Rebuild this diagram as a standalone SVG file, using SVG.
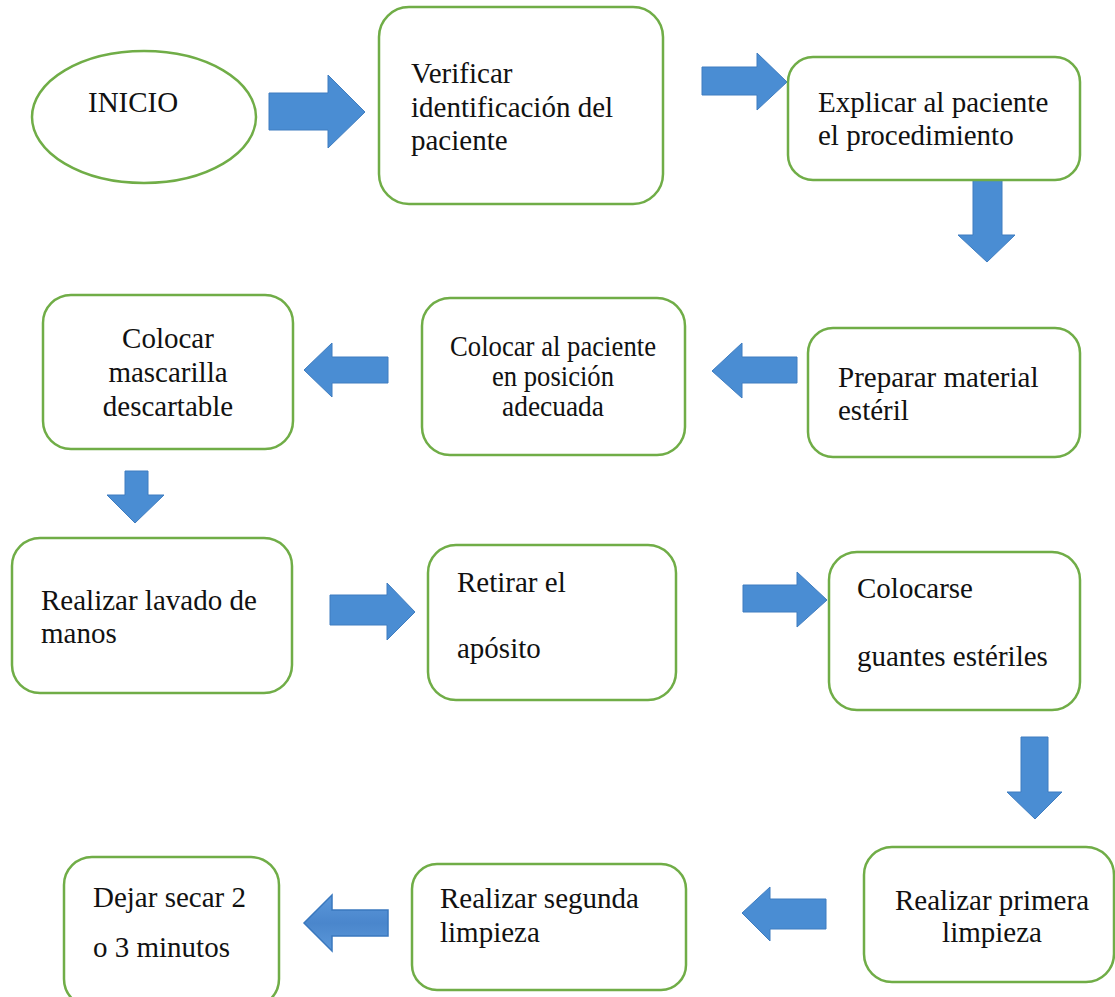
<svg xmlns="http://www.w3.org/2000/svg" width="1115" height="997" viewBox="0 0 1115 997" font-family="'Liberation Serif', 'Times New Roman', serif">
<defs>
<style>
.box{fill:#ffffff;stroke:#70AD47;stroke-width:2.5}
.arr{fill:#4A8DD3;stroke:#3F7DC0;stroke-width:1}
text{font-family:'Liberation Serif','Times New Roman',serif}
.t{font-size:29px;fill:#111111}
.c{text-anchor:middle}
</style>
<linearGradient id="g11" x1="0" y1="0" x2="0" y2="1">
<stop offset="0" stop-color="#5B98DA"/>
<stop offset="0.5" stop-color="#4A86CC"/>
<stop offset="1" stop-color="#5B98DA"/>
</linearGradient>
</defs>
<rect width="1115" height="997" fill="#ffffff"/>

<g id="connectors">
<path class="arr" d="M269,93 H328 V75 L365,112 L328,148 V130 H269 Z"/>
<path class="arr" d="M702,67 H757 V53 L787,82 L757,110 V95 H702 Z"/>
<path class="arr" d="M973,180 H1002 V235 H1015 L987,262 L958,235 H973 Z"/>
<path class="arr" d="M797,357 V383 H742 V398 L712,371 L742,343 V357 Z"/>
<path class="arr" d="M388,357 V383 H332 V397 L304,370 L332,343 V357 Z"/>
<path class="arr" d="M125,471 H148 V495 H164 L135,523 L107,495 H125 Z"/>
<path class="arr" d="M330,595 H387 V583 L415,612 L387,640 V625 H330 Z"/>
<path class="arr" d="M743,585 H797 V572 L827,600 L797,627 V612 H743 Z"/>
<path class="arr" d="M1021,737 H1048 V792 H1062 L1035,819 L1007,792 H1021 Z"/>
<path class="arr" d="M826,899 V929 H770 V941 L742,913 L770,887 V899 Z"/>
<path d="M388,910 V936 H332 V951 L304,923 L332,895 V910 Z" fill="url(#g11)" stroke="#3A78BE" stroke-width="1.5"/>
</g>

<g id="n-inicio">
<ellipse class="box" cx="144" cy="117" rx="112" ry="66"/>
<text class="t" x="88" y="112" font-size="30">INICIO</text>
</g>

<g id="n-verificar">
<rect class="box" x="379" y="7" width="284" height="197" rx="30"/>
<text class="t" x="411" y="83">Verificar</text>
<text class="t" x="411" y="117">identificación del</text>
<text class="t" x="411" y="150">paciente</text>
</g>

<g id="n-explicar">
<rect class="box" x="788" y="57" width="292" height="123" rx="25"/>
<text class="t" x="818" y="112" fill="#2a2a2a">Explicar al paciente</text>
<text class="t" x="818" y="145" fill="#2a2a2a">el procedimiento</text>
</g>

<g id="n-mascarilla">
<rect class="box" x="43" y="295" width="250" height="154" rx="28"/>
<text class="t c" x="168" y="348">Colocar</text>
<text class="t c" x="168" y="382">mascarilla</text>
<text class="t c" x="168" y="416">descartable</text>
</g>

<g id="n-posicion">
<rect class="box" x="422" y="298" width="263" height="157" rx="28"/>
<text class="t c" x="553" y="356" textLength="206" lengthAdjust="spacingAndGlyphs">Colocar al paciente</text>
<text class="t c" x="553" y="386" textLength="122" lengthAdjust="spacingAndGlyphs">en posición</text>
<text class="t c" x="553" y="416" textLength="102" lengthAdjust="spacingAndGlyphs">adecuada</text>
</g>

<g id="n-preparar">
<rect class="box" x="808" y="328" width="272" height="129" rx="25"/>
<text class="t" x="838" y="387">Preparar material</text>
<text class="t" x="838" y="420">estéril</text>
</g>

<g id="n-lavado">
<rect class="box" x="12" y="538" width="280" height="155" rx="28"/>
<text class="t" x="41" y="610">Realizar lavado de</text>
<text class="t" x="41" y="643">manos</text>
</g>

<g id="n-retirar">
<rect class="box" x="428" y="545" width="248" height="155" rx="28"/>
<text class="t" x="457" y="592">Retirar el</text>
<text class="t" x="457" y="658">apósito</text>
</g>

<g id="n-guantes">
<rect class="box" x="829" y="552" width="251" height="158" rx="28"/>
<text class="t" x="857" y="598">Colocarse</text>
<text class="t" x="857" y="666">guantes estériles</text>
</g>

<g id="n-primera">
<rect class="box" x="864" y="847" width="250" height="135" rx="28"/>
<text class="t c" x="992" y="910">Realizar primera</text>
<text class="t c" x="992" y="942">limpieza</text>
</g>

<g id="n-segunda">
<rect class="box" x="412" y="864" width="274" height="126" rx="25"/>
<text class="t" x="440" y="908">Realizar segunda</text>
<text class="t" x="440" y="942">limpieza</text>
</g>

<g id="n-secar">
<rect class="box" x="64" y="857" width="215" height="150" rx="28"/>
<text class="t" x="93" y="907">Dejar secar 2</text>
<text class="t" x="93" y="957">o 3 minutos</text>
</g>
</svg>
